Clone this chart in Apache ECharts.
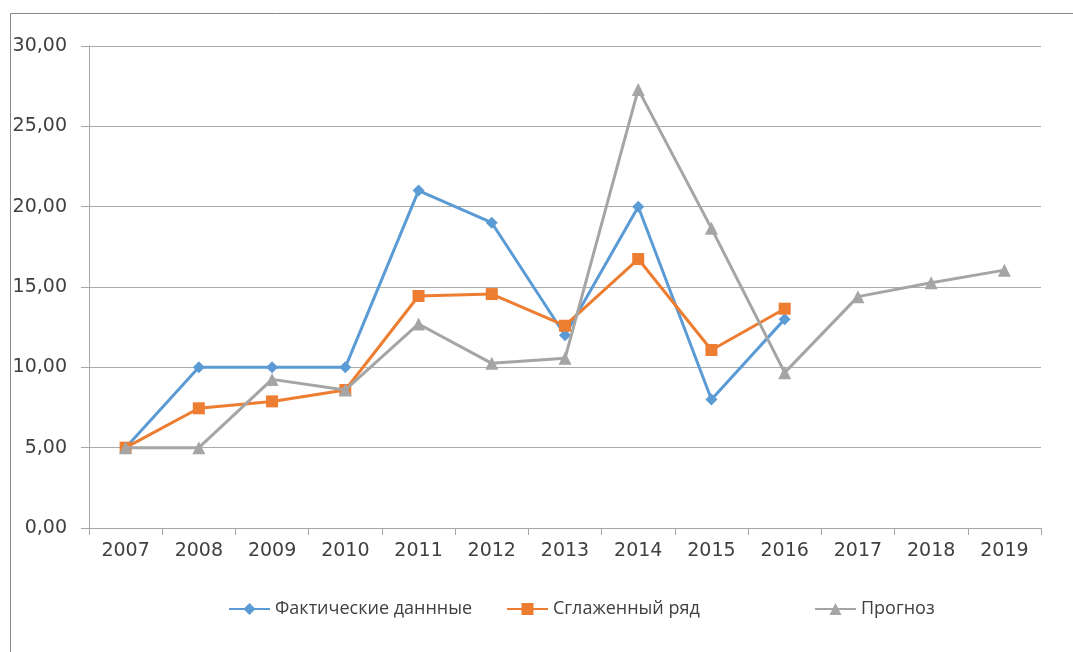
<!DOCTYPE html>
<html>
<head>
<meta charset="utf-8">
<script src="https://cdn.jsdelivr.net/npm/echarts@6/dist/echarts.min.js"></script>
<style>
html,body{margin:0;padding:0;background:#fff;}
#chart{width:1073px;height:652px;}
</style>
</head>
<body>
<div id="chart"></div>
<script>
const years = ['2007','2008','2009','2010','2011','2012','2013','2014','2015','2016','2017','2018','2019'];
const actual = [5, 10, 10, 10, 21, 19, 12, 20, 8, 13];
const smoothed = [5, 7.45, 7.88, 8.59, 14.44, 14.56, 12.59, 16.74, 11.08, 13.65];
const forecast = [5, 5, 9.25, 8.59, 12.7, 10.25, 10.56, 27.3, 18.65, 9.67, 14.4, 15.26, 16.05];
const seriesNames = ['Фактические даннные', 'Сглаженный ряд', 'Прогноз'];
const yTicks = {min: 0, max: 30, interval: 5};

const AXFONT = 'DejaVu Sans';
const LGFONT = 'Open Sans';
const TXT = '#404040';
const chart = echarts.init(document.getElementById('chart'));
const legendStyle = {
  top: 600, padding: 0, itemWidth: 41, itemHeight: 15,
  textStyle: {fontFamily: LGFONT, fontSize: 18, color: TXT}
};
chart.setOption({
  animation: false,
  backgroundColor: '#fff',
  graphic: [{
    type: 'rect', shape: {x: 10.5, y: 13.5, width: 1200, height: 800},
    style: {fill: 'none', stroke: '#8a8a8a', lineWidth: 1}, silent: true
  }],
  grid: {left: 89, right: 32, top: 46, bottom: 124, containLabel: false},
  legend: [
    Object.assign({}, legendStyle, {left: 228, data: [seriesNames[0]]}),
    Object.assign({}, legendStyle, {left: 506, data: [seriesNames[1]]}),
    Object.assign({}, legendStyle, {left: 814, data: [seriesNames[2]]})
  ],
  xAxis: {
    type: 'category', data: years, boundaryGap: true,
    axisLine: {lineStyle: {color: '#a6a6a6', width: 1}},
    axisTick: {show: true, length: 7, interval: 0, lineStyle: {color: '#a6a6a6'}},
    axisLabel: {fontFamily: AXFONT, fontSize: 19, color: TXT, margin: 14, interval: 0},
    splitLine: {show: false}
  },
  yAxis: {
    type: 'value', min: yTicks.min, max: yTicks.max, interval: yTicks.interval,
    axisLine: {show: true, lineStyle: {color: '#a6a6a6', width: 1}},
    axisTick: {show: true, length: 8, lineStyle: {color: '#a6a6a6'}},
    axisLabel: {fontFamily: AXFONT, fontSize: 19, color: TXT, margin: 22,
      formatter: v => v.toFixed(2).replace('.', ',')},
    splitLine: {show: true, lineStyle: {color: '#ababab', width: 1}}
  },
  series: [
    {name: seriesNames[0], type: 'line', data: actual, symbol: 'diamond', symbolSize: 12,
      lineStyle: {color: '#5b9bd5', width: 3}, itemStyle: {color: '#5b9bd5'}, z: 3},
    {name: seriesNames[1], type: 'line', data: smoothed, symbol: 'rect', symbolSize: 12,
      lineStyle: {color: '#ed7d31', width: 3}, itemStyle: {color: '#ed7d31'}, z: 4},
    {name: seriesNames[2], type: 'line', data: forecast, symbol: 'triangle', symbolSize: 13,
      lineStyle: {color: '#a5a5a5', width: 3}, itemStyle: {color: '#a5a5a5'}, z: 5}
  ]
});
</script>
</body>
</html>
